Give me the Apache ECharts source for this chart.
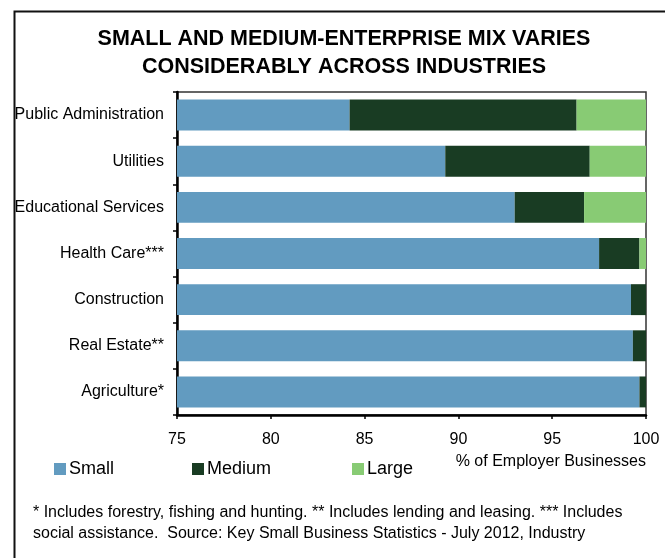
<!DOCTYPE html>
<html>
<head>
<meta charset="utf-8">
<script src="https://cdn.jsdelivr.net/npm/echarts@6/dist/echarts.min.js"></script>
<style>
  html, body { margin: 0; padding: 0; background: #ffffff; }
  #chart { width: 665px; height: 558px; }
</style>
</head>
<body>
<div id="chart"></div>
<script>
// Industries, listed top to bottom
var industries = [
  'Public Administration',
  'Utilities',
  'Educational Services',
  'Health Care***',
  'Construction',
  'Real Estate**',
  'Agriculture*'
];

// Share of employer businesses (%) by firm size
var smallShare  = [84.2, 89.3, 93.0, 97.5, 99.2, 99.3, 99.65];
var mediumShare = [12.1, 7.7, 3.7, 2.15, 0.8, 0.7, 0.35];
var largeShare  = [3.7, 3.0, 3.3, 0.35, 0.0, 0.0, 0.0];

var xTicks = [75, 80, 85, 90, 95, 100];

var FONT = '"Liberation Sans", Arial, sans-serif';
var colors = { small: '#629bc0', medium: '#193c23', large: '#88cb74' };

var chart = echarts.init(document.getElementById('chart'), null, { renderer: 'canvas' });

function legendFor(name, left) {
  return {
    data: [name],
    left: left,
    top: 455,
    itemWidth: 12,
    itemHeight: 12,
    itemGap: 0,
    icon: 'rect',
    textStyle: { fontFamily: FONT, fontSize: 18, color: '#000', padding: [0, 0, 0, -2] },
    selectedMode: false
  };
}

chart.setOption({
  animation: false,
  backgroundColor: '#ffffff',
  title: [
    {
      text: 'SMALL AND MEDIUM-ENTERPRISE MIX VARIES\nCONSIDERABLY ACROSS INDUSTRIES',
      left: 339,
      top: 20,
      textAlign: 'center',
      textStyle: { fontFamily: FONT, fontSize: 21.5, fontWeight: 'bold', color: '#000', lineHeight: 28 }
    },
    {
      text: '% of Employer Businesses',
      right: 14,
      top: 449,
      textStyle: { fontFamily: FONT, fontSize: 16, fontWeight: 'normal', color: '#000' }
    },
    {
      text: '* Includes forestry, fishing and hunting. ** Includes lending and leasing. *** Includes\nsocial assistance.  Source: Key Small Business Statistics - July 2012, Industry',
      left: 28,
      top: 497,
      textStyle: { fontFamily: FONT, fontSize: 16, fontWeight: 'normal', color: '#000', lineHeight: 21 }
    }
  ],
  legend: [
    legendFor('Small', 49),
    legendFor('Medium', 187),
    legendFor('Large', 347)
  ],
  grid: {
    left: 177,
    right: 19,
    top: 92,
    bottom: 143,
    show: true,
    borderColor: '#333',
    borderWidth: 1.5,
    containLabel: false
  },
  xAxis: {
    type: 'value',
    min: 75,
    max: 100,
    interval: 5,
    axisLine: { show: true, lineStyle: { color: '#000', width: 2.5 } },
    axisTick: { show: true, length: 4, inside: false, lineStyle: { color: '#000', width: 1.5 } },
    axisLabel: {
      margin: 17,
      fontFamily: FONT,
      fontSize: 16,
      color: '#000',
      formatter: function (v) { return xTicks.indexOf(v) >= 0 ? String(v) : ''; }
    },
    splitLine: { show: false }
  },
  yAxis: {
    type: 'category',
    data: industries,
    inverse: true,
    axisLine: { show: true, lineStyle: { color: '#000', width: 2.5 } },
    axisTick: { show: true, length: 4, inside: false, interval: 0, lineStyle: { color: '#000', width: 1.5 } },
    axisLabel: { margin: 13, fontFamily: FONT, fontSize: 16, color: '#000' }
  },
  series: [
    {
      name: 'Small', type: 'bar', stack: 'mix', data: smallShare,
      barCategoryGap: '33%', itemStyle: { color: colors.small }
    },
    {
      name: 'Medium', type: 'bar', stack: 'mix', data: mediumShare,
      itemStyle: { color: colors.medium }
    },
    {
      name: 'Large', type: 'bar', stack: 'mix', data: largeShare,
      itemStyle: { color: colors.large }
    }
  ],
  graphic: [
    {
      type: 'rect',
      left: 12,
      top: 9,
      shape: { x: 0, y: 0, width: 700, height: 600 },
      style: { fill: 'none', stroke: '#111', lineWidth: 2 },
      silent: true,
      z: 100
    }
  ]
});
</script>
</body>
</html>
